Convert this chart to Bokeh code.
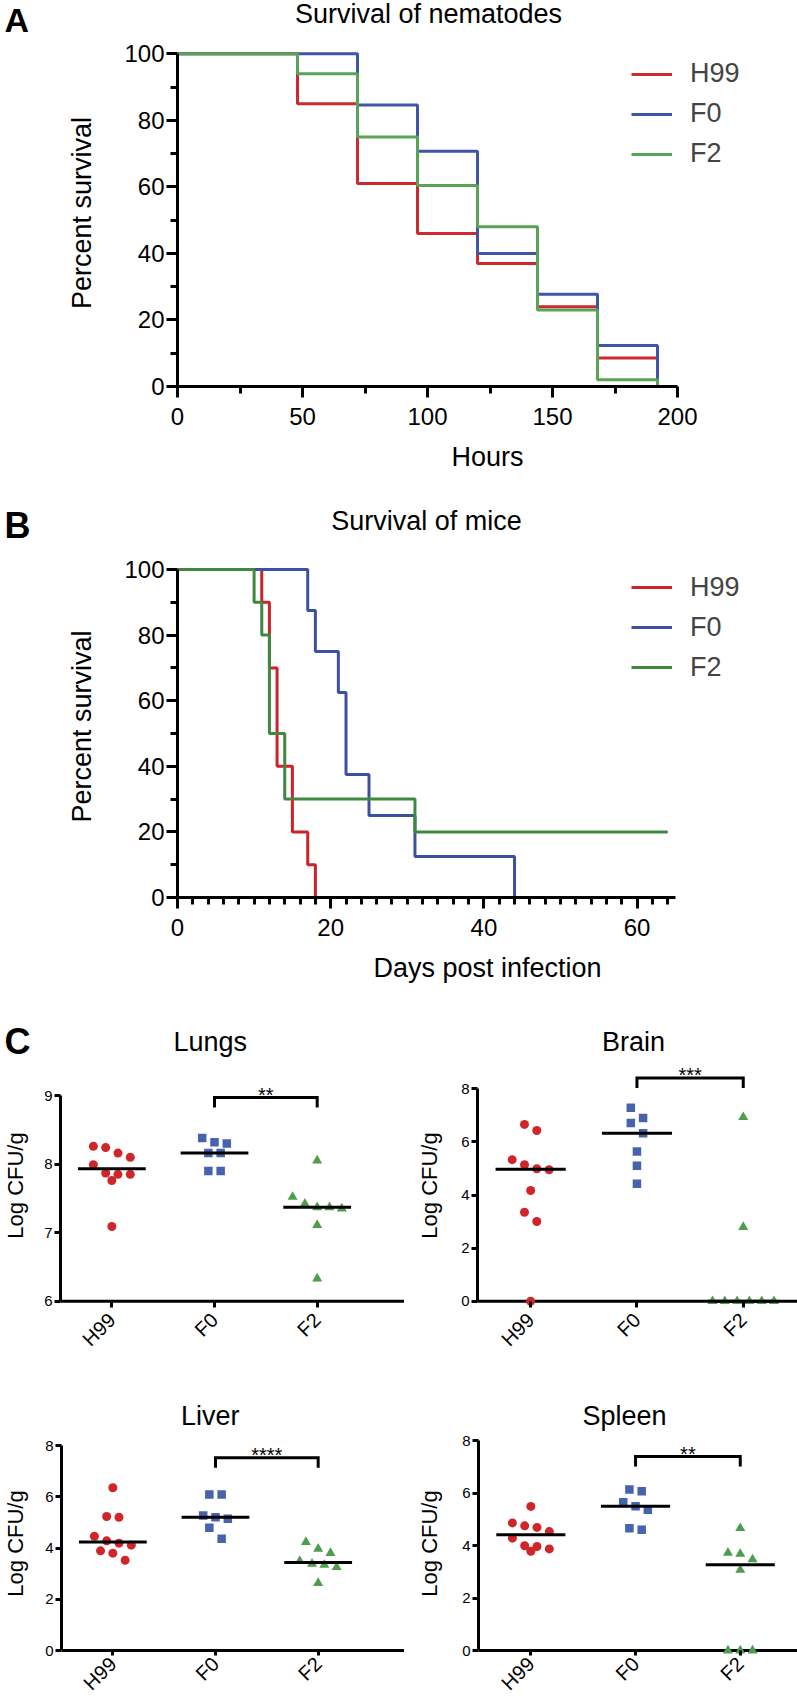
import numpy as np
from bokeh.plotting import figure
from bokeh.models import (Range1d, FixedTicker, Label, Legend, LegendItem, Span,
                          CustomJSTickFormatter)
from bokeh.layouts import column, row
from bokeh.embed import file_html
from bokeh.resources import INLINE

FONT = "Liberation Sans"

# ---------------- data ----------------
# A: survival of nematodes (hours, percent survival)
hours = [0, 48, 72, 96, 120, 144, 168, 192]
nem_h99 = [100, 85, 61, 46, 37, 24, 8.6, 0]
nem_f0 = [100, 100, 84.6, 70.7, 40, 27.7, 12.3, 0]
nem_f2 = [100, 94, 75, 60.4, 48, 23, 2, 0]
hours_major = [0, 50, 100, 150, 200]
hours_minor = [25, 75, 125, 175]

# B: survival of mice (days post infection, percent survival)
mice_h99_days = [0, 11, 12, 13, 15, 17, 18]
mice_h99 = [100, 90, 70, 40, 20, 10, 0]
mice_f0_days = [0, 17, 18, 21, 22, 25, 31, 44]
mice_f0 = [100, 87.5, 75, 62.5, 37.5, 25, 12.5, 0]
mice_f2_days = [0, 10, 11, 12, 14, 31, 64]
mice_f2 = [100, 90, 80, 50, 30, 20, 20]
days_major = [0, 20, 40, 60]
days_minor = [d for d in range(2, 65, 2) if d % 20 != 0]

pct_major = [0, 20, 40, 60, 80, 100]
pct_minor = [10, 30, 50, 70, 90]

# C: fungal burden (log CFU/g)
strains = ["H99", "F0", "F2"]
organs = ["Lungs", "Brain", "Liver", "Spleen"]
lungs_h99 = [8.26, 8.24, 8.16, 8.10, 7.99, 7.87, 7.85, 7.85, 7.76, 7.09]
lungs_f0 = [8.38, 8.32, 8.30, 8.16, 8.16, 7.90, 7.90]
lungs_f2 = [8.05, 7.52, 7.42, 7.37, 7.37, 7.35, 7.11, 6.33]
brain_h99 = [6.66, 6.43, 5.33, 5.14, 4.99, 4.95, 4.17, 3.35, 3.00, 0.0]
brain_f0 = [7.29, 6.90, 6.71, 6.33, 5.64, 5.10, 4.42]
brain_f2 = [6.93, 2.79, 0.0, 0.0, 0.0, 0.0, 0.0, 0.0]
liver_h99 = [6.35, 5.23, 5.20, 4.46, 4.28, 4.19, 4.11, 3.89, 3.80, 3.52]
liver_f0 = [6.09, 6.09, 5.27, 5.20, 5.14, 4.79, 4.36]
liver_f2 = [4.23, 3.97, 3.80, 3.49, 3.38, 3.34, 3.25, 2.63]
spleen_h99 = [5.49, 4.86, 4.75, 4.69, 4.53, 4.28, 3.99, 3.96, 3.87, 3.78]
spleen_f0 = [6.13, 6.07, 5.65, 5.50, 5.36, 4.66, 4.60]
spleen_f2 = [4.66, 3.72, 3.68, 3.47, 3.07, 0.0, 0.0, 0.0]
organ_values = [
    [lungs_h99, lungs_f0, lungs_f2],
    [brain_h99, brain_f0, brain_f2],
    [liver_h99, liver_f0, liver_f2],
    [spleen_h99, spleen_f0, spleen_f2],
]
organ_ticks = [[6, 7, 8, 9], [0, 2, 4, 6, 8], [0, 2, 4, 6, 8], [0, 2, 4, 6, 8]]
significance = ["**", "***", "****", "**"]
bracket_levels = [8.97, 8.41, 7.52, 7.39]   # height of the F0-F2 comparison bracket

# ---------------- styles ----------------
LINE_COLORS_A = ["#CD2A2F", "#3F55A5", "#58A354"]
LINE_COLORS_B = ["#CC2329", "#3C50A2", "#40883F"]
MARK_COLORS = ["#D0252B", "#4763AE", "#4E9C50"]
MARKERS = ["circle", "square", "triangle"]
MARK_SIZES = [9, 8.5, 10]
PAGE_W = 797
MID = 0.35   # distance (in em) from alphabetic baseline up to the 'middle' anchor


def base_fig(W, H, fl, fw, ft, fh, xr, yr):
    p = figure(frame_width=fw, frame_height=fh,
               min_border_left=fl, min_border_right=W - fl - fw,
               min_border_top=ft, min_border_bottom=H - ft - fh,
               x_range=Range1d(*xr), y_range=Range1d(*yr),
               output_backend="svg", toolbar_location=None)
    p.outline_line_color = None
    p.xgrid.grid_line_color = None
    p.ygrid.grid_line_color = None
    p.background_fill_color = "white"
    p.border_fill_color = "white"
    return p


def header(h, texts):
    """A strip holding panel letters and titles; texts given as (x, baseline_y, ...) in pixels."""
    p = figure(frame_width=PAGE_W, frame_height=h, min_border_left=0, min_border_right=0,
               min_border_top=0, min_border_bottom=0,
               x_range=Range1d(0, PAGE_W), y_range=Range1d(h, 0),
               x_axis_type=None, y_axis_type=None,
               output_backend="svg", toolbar_location=None)
    p.outline_line_color = None
    p.background_fill_color = "white"
    p.border_fill_color = "white"
    for (x, base, text, size, align, bold) in texts:
        p.add_layout(Label(x=x, y=base - MID * size, text=text, text_font=FONT,
                           text_font_size=f"{size}px", text_align=align, text_baseline="middle",
                           text_font_style="bold" if bold else "normal", text_color="black"))
    return p


def style_axis(ax, tick_out, minor_out, label_size, label_standoff, axis_label_size, axis_label_standoff):
    ax.axis_line_width = 3
    ax.axis_line_color = "black"
    ax.major_tick_line_width = 3
    ax.minor_tick_line_width = 3
    ax.major_tick_line_color = "black"
    ax.minor_tick_line_color = "black"
    ax.major_tick_in = 0
    ax.minor_tick_in = 0
    ax.major_tick_out = tick_out
    ax.minor_tick_out = minor_out
    ax.major_label_text_font = FONT
    ax.major_label_text_font_size = f"{label_size}px"
    ax.major_label_text_color = "black"
    ax.major_label_standoff = label_standoff
    ax.axis_label_text_font = FONT
    ax.axis_label_text_font_size = f"{axis_label_size}px"
    ax.axis_label_text_font_style = "normal"
    ax.axis_label_text_color = "black"
    ax.axis_label_standoff = axis_label_standoff


def survival_panel(H, fl, fb, ppx, ppy, x_axis_end, series, colors, x_major, x_minor,
                   xlabel, legend_left, legend_bottom):
    fw = PAGE_W - fl
    fh = fb
    p = base_fig(PAGE_W, H, fl, fw, 0, fh, (0, fw / ppx), (0, fh / ppy))
    items = []
    for (xs, ys, name), c in zip(series, colors):
        r = p.step(xs, ys, mode="after", line_width=3, line_color=c)
        items.append(LegendItem(label=name, renderers=[r]))
    legend = Legend(items=items, location=(legend_left - fl, fb - legend_bottom),
                    border_line_color=None, background_fill_alpha=0,
                    padding=0, margin=0, spacing=9, glyph_width=41, glyph_height=30,
                    label_height=30, label_standoff=18,
                    label_text_font=FONT, label_text_font_size="27px")
    p.add_layout(legend)

    xa = p.xaxis[0]
    ya = p.yaxis[0]
    xa.ticker = FixedTicker(ticks=x_major, minor_ticks=x_minor)
    ya.ticker = FixedTicker(ticks=pct_major, minor_ticks=pct_minor)
    xa.bounds = (0, x_axis_end)
    ya.bounds = (0, 100)
    style_axis(xa, 11, 7, 24, 10, 27, 14)
    style_axis(ya, 11, 7, 24, 2, 27, 24)
    xa.axis_label = xlabel
    ya.axis_label = "Percent survival"
    return p


def swarm_offsets(vals, ppy, ppx, row_px=12.0, slot_px=12.3):
    order = sorted(range(len(vals)), key=lambda i: -vals[i])
    offs = [0.0] * len(vals)
    rows, cur = [], []
    for i in order:
        if cur and (vals[cur[0]] - vals[i]) * ppy < row_px:
            cur.append(i)
        else:
            if cur:
                rows.append(cur)
            cur = [i]
    if cur:
        rows.append(cur)
    for r in rows:
        n = len(r)
        for k, i in enumerate(r):
            offs[i] = (k - (n - 1) / 2) * slot_px / ppx
    return offs


def organ_panel(idx, W, H, fl, ppx, lo_px, hi_px, pad, ylabel_standoff, xlabel_standoff):
    groups = organ_values[idx]
    ticks = organ_ticks[idx]
    ylo, yhi = ticks[0], ticks[-1]
    ppy = (lo_px - hi_px) / (yhi - ylo)
    fh = int(round(lo_px + pad))
    fw = W - fl
    y_start = ylo - (fh - lo_px) / ppy
    y_end = y_start + fh / ppy
    x_start = -0.5
    x_end = x_start + fw / ppx
    p = base_fig(W, H, fl, fw, 0, fh, (x_start, x_end), (y_start, y_end))

    # x axis line sits at the lowest y tick
    p.add_layout(Span(location=ylo, dimension="width", line_color="black",
                      line_width=3, level="underlay"))

    for k, vals in enumerate(groups):
        offs = swarm_offsets(vals, ppy, ppx)
        xs = [k + o for o in offs]
        p.scatter(xs, vals, marker=MARKERS[k], size=MARK_SIZES[k],
                  fill_color=MARK_COLORS[k], line_color=None)
        m = float(np.median(vals))
        p.segment(x0=[k - 0.33], y0=[m], x1=[k + 0.33], y1=[m],
                  line_width=3, line_color="black")

    yb = bracket_levels[idx]
    leg = 10 / ppy
    p.line([1, 1, 2, 2], [yb - leg, yb, yb, yb - leg], line_width=3,
           line_color="black", line_join="miter")
    p.add_layout(Label(x=1.5, y=yb + 2.5 / ppy, text=significance[idx], text_font=FONT,
                       text_font_size="20px", text_align="center",
                       text_baseline="middle", text_color="black"))

    xa = p.xaxis[0]
    ya = p.yaxis[0]
    xa.ticker = FixedTicker(ticks=[0, 1, 2])
    xa.formatter = CustomJSTickFormatter(
        args=dict(names=strains),
        code="const i = Math.round(tick); return (i >= 0 && i < names.length) ? names[i] : '';")
    xa.major_label_orientation = np.pi / 4
    ya.ticker = FixedTicker(ticks=ticks)
    ya.bounds = (ylo, yhi)
    style_axis(xa, 0, 0, 20, xlabel_standoff, 20, 0)
    xa.axis_line_color = None
    xa.major_tick_in = int(round(fh - lo_px))
    style_axis(ya, 6, 0, 15, 2, 22, ylabel_standoff)
    ya.axis_label = "Log CFU/g"
    return p


# ---------------- panels ----------------
# band A: 0-488 (header 0-39, plot 39-488)
hA = header(39, [(4, 31.5, "A", 34, "left", True),
                 (428, 23.3, "Survival of nematodes", 27, "center", False)])
pA = survival_panel(449, 177, 347, 2.5, 3.327, 200,
                    [(hours, nem_h99, "H99"), (hours, nem_f0, "F0"), (hours, nem_f2, "F2")],
                    LINE_COLORS_A, hours_major, hours_minor, "Hours", 631, 130)

# band B: 488-988 (header 488-555, plot 555-988)
hB = header(67, [(4, 50, "B", 36, "left", True),
                 (426, 42, "Survival of mice", 27, "center", False)])
pB = survival_panel(433, 177, 342, 7.66, 3.28, 65,
                    [(mice_h99_days, mice_h99, "H99"), (mice_f0_days, mice_f0, "F0"),
                     (mice_f2_days, mice_f2, "F2")],
                    LINE_COLORS_B, days_major, days_minor, "Days post infection", 631, 127.7)

# band C, first row: header 988-1063, plots 1063-1360
hC1 = header(75, [(4, 66, "C", 36, "left", True),
                  (209.7, 63, "Lungs", 27, "center", False),
                  (633, 63, "Brain", 27, "center", False)])
pLungs = organ_panel(0, 400, 297, 56, 102.67, 237.7, 32.0, 6, 13, 9)
pBrain = organ_panel(1, 397, 297, 73, 106.3, 237.7, 25.3, 6, 16, 9)

# band C, second row: header 1360-1431, plots 1431-1704
hC2 = header(71, [(209.7, 65, "Liver", 27, "center", False),
                  (624, 65, "Spleen", 27, "center", False)])
pLiver = organ_panel(2, 400, 273, 57, 102.67, 219, 14, 5, 14, 5)
pSpleen = organ_panel(3, 397, 273, 74, 104.7, 219, 9, 5, 17, 5)

layout = column(row(hA), row(pA), row(hB), row(pB), row(hC1),
                row(pLungs, pBrain), row(hC2), row(pLiver, pSpleen))

with open("out.html", "w") as f:
    f.write(file_html(layout, INLINE))
